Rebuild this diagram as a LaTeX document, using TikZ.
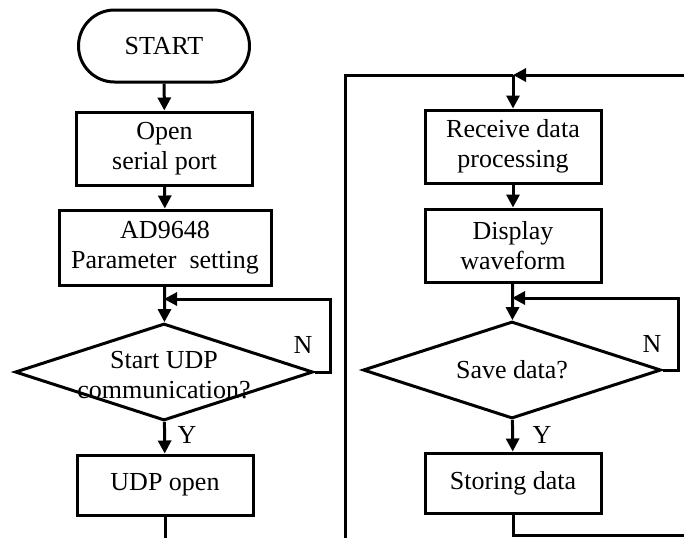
\documentclass[tikz,border=0pt]{standalone}
\usepackage{fontspec}
\setmainfont{Liberation Serif}
\usetikzlibrary{shapes.geometric,arrows.meta}

\begin{document}
\begin{tikzpicture}[x=0.5pt,y=-0.5pt,line width=1.5pt,
        every node/.style={font=\fontsize{13}{15}\selectfont},
        box/.style={draw,rectangle,align=center,inner sep=0pt,minimum width=88pt,minimum height=36.5pt},
        decision/.style={draw,diamond,inner sep=0pt,minimum width=149pt,minimum height=48.5pt},
        arr/.style={-{Triangle[length=6.5pt,width=6.5pt]}}]
        \useasboundingbox (0,0) rectangle (684,537);

        % left column
        \node[box,rounded corners=18pt,minimum width=85.5pt,minimum height=36pt] (start) at (164,46) {START};
        \node[box] (open) at (164.5,148.5) {Open\\serial port};
        \node[box,minimum width=106pt,minimum height=37.5pt] (ad) at (165,247.5) {AD9648\\Parameter\ \ setting};
        \node[decision,label={[align=center,yshift=-1.5pt]center:{Start UDP\\communication?}}] (udpq) at (164,372) {};
        \node[box,minimum height=30pt] (udp) at (165,485) {UDP open};
        \coordinate (udpj) at (164,299);
        \coordinate (udpend) at (165,540);

        \draw[arr] (start) -- (open);
        \draw[arr] (open) -- (ad);
        \draw[arr] (ad) -- (udpq);
        \draw[arr] (udpq.east) -- ++(16,0) |- (udpj);
        \draw[arr] (udpq) -- (udp);
        \draw (udp) -- (udpend);
        \node (n1) at (303,345) {N};
        \node (y1) at (187,435) {Y};

        % right column
        \node[box] (recv) at (513,146.5) {Receive data\\processing};
        \node[box] (disp) at (513,245.5) {Display\\waveform};
        \node[decision,label={center:Save data?}] (saveq) at (512,370) {};
        \node[box,minimum height=30pt] (store) at (513,483) {Storing data};
        \coordinate (savej) at (512,298);
        \coordinate (top) at (513,75);
        \coordinate (inR) at (684,75);
        \coordinate (outR) at (684,535);
        \coordinate (lt) at (345,75);
        \coordinate (lb) at (345,540);

        \draw[arr] (inR) -- (top);
        \draw (lb) -- (lt) -- (top);
        \draw[arr] (top) -- (recv);
        \draw[arr] (recv) -- (disp);
        \draw[arr] (disp) -- (saveq);
        \draw[arr] (saveq.east) -- ++(16,0) |- (savej);
        \draw[arr] (saveq) -- (store);
        \draw (store) |- (outR);
        \node (n2) at (652,344) {N};
        \node (y2) at (542,435) {Y};
\end{tikzpicture}
\end{document}
